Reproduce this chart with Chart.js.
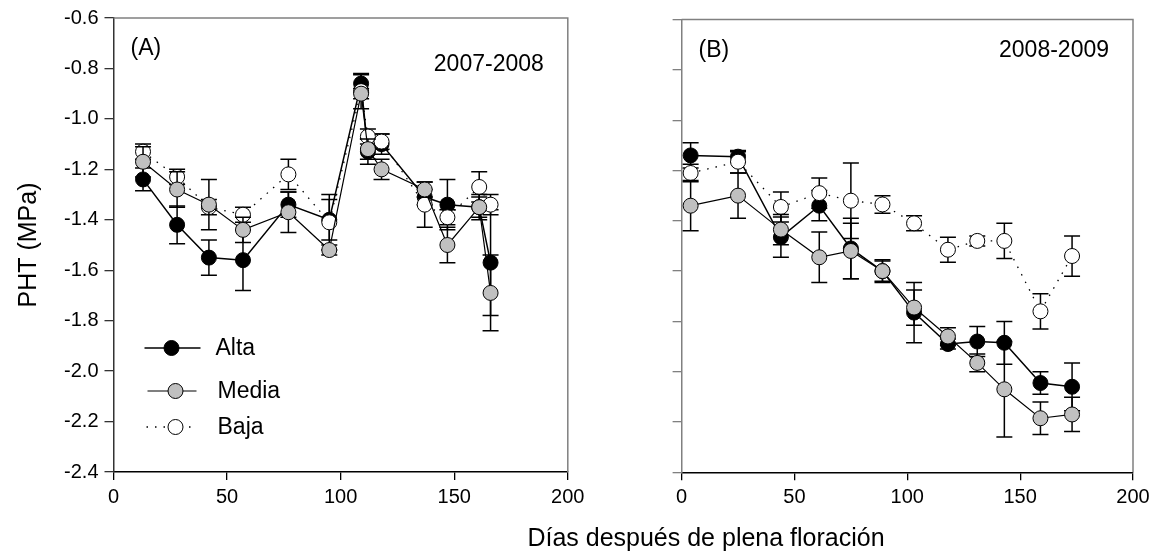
<!DOCTYPE html>
<html>
<head>
<meta charset="utf-8">
<script src="https://cdn.jsdelivr.net/npm/chart.js@4"></script>
<style>
  html, body { margin: 0; padding: 0; background: #fff; }
  #wrap { position: relative; width: 1159px; height: 556px; font-family: "Liberation Sans", Arial, sans-serif; }
  #left { position: absolute; left: 0; top: 0; }
  #right { position: absolute; left: 620px; top: 0; }
  #xTitle { position: absolute; left: 456px; width: 500px; top: 523px; text-align: center; font-size: 25px; color: #000; }
</style>
</head>
<body>
<div id="wrap">
  <canvas id="left" width="620" height="556"></canvas>
  <canvas id="right" width="539" height="556"></canvas>
  <div id="xTitle">Días después de plena floración</div>
</div>
<script>
// datos: PHT (MPa) por días después de plena floración
const seriesNames = ['Alta', 'Media', 'Baja'];
const xTicks = [0, 50, 100, 150, 200];
const yTicks = [-0.6, -0.8, -1.0, -1.2, -1.4, -1.6, -1.8, -2.0, -2.2, -2.4];

// (A) 2007-2008
const diasA = [13, 28, 42, 57, 77, 95, 109, 112, 118, 137, 147, 161, 166];
const altaA = [-1.24, -1.42, -1.55, -1.56, -1.34, -1.40, -0.86, -1.13, -1.10, -1.31, -1.34, -1.35, -1.57];
const altaAerr = [0.045, 0.075, 0.07, 0.12, 0.05, 0.08, 0.035, 0.05, 0.04, 0.03, 0.10, 0.04, 0.21];
const mediaA = [-1.17, -1.28, -1.34, -1.44, -1.37, -1.52, -0.90, -1.12, -1.20, -1.28, -1.50, -1.35, -1.69];
const mediaAerr = [0.06, 0.07, 0.10, 0.05, 0.08, 0.02, 0.02, 0.04, 0.04, 0.03, 0.07, 0.05, 0.15];
const bajaA = [-1.13, -1.23, -1.35, -1.38, -1.22, -1.41, -0.89, -1.07, -1.09, -1.34, -1.39, -1.27, -1.34];
const bajaAerr = [0.03, 0.03, 0.03, 0.03, 0.06, 0.11, 0.07, 0.03, 0.03, 0.09, 0.03, 0.06, 0.04];

// (B) 2008-2009
const diasB = [4, 25, 44, 61, 75, 89, 103, 118, 131, 143, 159, 173];
const altaB = [-1.14, -1.145, -1.465, -1.34, -1.51, -1.60, -1.765, -1.89, -1.88, -1.885, -2.045, -2.06];
const altaBerr = [0.05, 0.02, 0.08, 0.06, 0.12, 0.04, 0.12, 0.02, 0.06, 0.085, 0.045, 0.095];
const mediaB = [-1.34, -1.30, -1.435, -1.545, -1.52, -1.60, -1.745, -1.86, -1.965, -2.07, -2.185, -2.17];
const mediaBerr = [0.10, 0.09, 0.06, 0.10, 0.11, 0.045, 0.07, 0.035, 0.035, 0.19, 0.065, 0.068];
const bajaB = [-1.21, -1.165, -1.345, -1.29, -1.32, -1.335, -1.41, -1.515, -1.48, -1.48, -1.76, -1.54];
const bajaBerr = [0.035, 0.045, 0.06, 0.06, 0.15, 0.035, 0.03, 0.05, 0.02, 0.07, 0.07, 0.08];

const FONT = '"Liberation Sans", Arial, sans-serif';
const GREY = '#c0c0c0';

function pts(xs, ys){ return xs.map((x, i) => ({ x: x, y: ys[i] })); }

function makeDatasets(dias, alta, altaErr, media, mediaErr, baja, bajaErr){
  // orden: Alta abajo, Baja en medio, Media arriba
  return [
    { label: seriesNames[0], data: pts(dias, alta), errors: altaErr, order: 3,
      borderColor: '#000', borderWidth: 1.5, backgroundColor: '#000',
      pointBackgroundColor: '#000', pointBorderColor: '#000', pointBorderWidth: 1, pointRadius: 7.5 },
    { label: seriesNames[2], data: pts(dias, baja), errors: bajaErr, order: 2,
      borderColor: '#000', borderWidth: 1.3, borderDash: [1.5, 7],
      pointBackgroundColor: '#fff', pointBorderColor: '#000', pointBorderWidth: 1, pointRadius: 7.5 },
    { label: seriesNames[1], data: pts(dias, media), errors: mediaErr, order: 1,
      borderColor: '#000', borderWidth: 1.2,
      pointBackgroundColor: GREY, pointBorderColor: '#000', pointBorderWidth: 1, pointRadius: 7.5 }
  ];
}

// barras de error, dibujadas justo antes de cada serie
const errorBars = {
  id: 'errorBars',
  beforeDatasetDraw(chart, args){
    const ds = chart.data.datasets[args.index];
    if(!ds.errors) return;
    const sx = chart.scales.x, sy = chart.scales.y, ctx = chart.ctx;
    ctx.save();
    ctx.strokeStyle = '#000';
    ctx.lineWidth = 1.5;
    ds.data.forEach((p, i) => {
      const e = ds.errors[i];
      const px = sx.getPixelForValue(p.x);
      const t = sy.getPixelForValue(p.y + e);
      const b = sy.getPixelForValue(p.y - e);
      ctx.beginPath();
      ctx.moveTo(px, t); ctx.lineTo(px, b);
      ctx.moveTo(px - 8, t); ctx.lineTo(px + 8, t);
      ctx.moveTo(px - 8, b); ctx.lineTo(px + 8, b);
      ctx.stroke();
    });
    ctx.restore();
  }
};

// marco superior y derecho + textos del panel
const frame = {
  id: 'frame',
  afterDraw(chart, args, opts){
    const a = chart.chartArea, ctx = chart.ctx;
    ctx.save();
    ctx.strokeStyle = '#808080';
    ctx.lineWidth = 1.5;
    ctx.beginPath();
    ctx.moveTo(a.left, a.top); ctx.lineTo(a.right, a.top); ctx.lineTo(a.right, a.bottom);
    ctx.stroke();
    ctx.fillStyle = '#000';
    ctx.font = '23px ' + FONT;
    ctx.textBaseline = 'middle';
    ctx.textAlign = 'left';
    ctx.fillText(opts.tag, a.left + 17, a.top + 31);
    ctx.textAlign = 'right';
    ctx.fillText(opts.season, a.right - 24, a.top + opts.seasonDy);
    ctx.restore();
  }
};

// leyenda dentro del panel A
const legendBox = {
  id: 'legendBox',
  afterDraw(chart, args, opts){
    if(!opts.show) return;
    const a = chart.chartArea, ctx = chart.ctx;
    const rows = [
      { name: seriesNames[0], fill: '#000', dash: [], lw: 1.5, y: 330, x0: 31, x1: 87, mx: 58, tx: 102 },
      { name: seriesNames[1], fill: GREY, dash: [], lw: 1.2, y: 373, x0: 34, x1: 83, mx: 62, tx: 104 },
      { name: seriesNames[2], fill: '#fff', dash: [1.5, 7], lw: 1.3, y: 409, x0: 33, x1: 83, mx: 62, tx: 104 }
    ];
    ctx.save();
    rows.forEach(r => {
      const y = a.top + r.y;
      ctx.strokeStyle = '#000';
      ctx.lineWidth = r.lw;
      ctx.setLineDash(r.dash);
      ctx.beginPath();
      ctx.moveTo(a.left + r.x0, y); ctx.lineTo(a.left + r.x1, y);
      ctx.stroke();
      ctx.setLineDash([]);
      ctx.beginPath();
      ctx.arc(a.left + r.mx, y, 7.5, 0, Math.PI * 2);
      ctx.fillStyle = r.fill;
      ctx.fill();
      ctx.lineWidth = 1;
      ctx.stroke();
      ctx.fillStyle = '#000';
      ctx.font = '23px ' + FONT;
      ctx.textAlign = 'left';
      ctx.textBaseline = 'middle';
      ctx.fillText(r.name, a.left + r.tx, y + 1);
    });
    ctx.restore();
  }
};

function buildOptions(o){
  return {
    responsive: false,
    animation: false,
    layout: { padding: { left: 0, top: o.top, right: o.right, bottom: 0 } },
    plugins: {
      legend: { display: false },
      tooltip: { enabled: false },
      frame: { tag: o.tag, season: o.season, seasonDy: o.seasonDy },
      legendBox: { show: o.legend }
    },
    scales: {
      x: {
        type: 'linear', min: 0, max: 200,
        afterBuildTicks: axis => { axis.ticks = xTicks.map(v => ({ value: v })); },
        ticks: { color: '#000', font: { family: FONT, size: 20 }, padding: 5, maxRotation: 0 },
        grid: { drawOnChartArea: false, drawTicks: true, tickLength: 8, color: '#000', lineWidth: 1.3 },
        border: { color: '#000', width: 1.5 },
        afterFit: axis => { axis.height = o.xh; }
      },
      y: {
        type: 'linear', min: -2.4, max: -0.6,
        afterBuildTicks: axis => { axis.ticks = yTicks.map(v => ({ value: v })); },
        ticks: {
          color: '#000', font: { family: FONT, size: 20 }, padding: 6,
          callback: v => o.yLabels ? v.toFixed(1) : ''
        },
        grid: { drawOnChartArea: false, drawTicks: true, tickLength: 9, color: o.yColor, lineWidth: 1.3 },
        border: { color: o.yColor, width: 1.5 },
        title: {
          display: o.yLabels, text: 'PHT (MPa)', color: '#000',
          font: { family: FONT, size: 25 }, padding: { top: 14, bottom: 0 }
        },
        afterFit: axis => { axis.width = o.yw; }
      }
    }
  };
}

new Chart(document.getElementById('left'), {
  type: 'line',
  data: { datasets: makeDatasets(diasA, altaA, altaAerr, mediaA, mediaAerr, bajaA, bajaAerr) },
  options: buildOptions({ top: 16.7, right: 52.2, xh: 84, yw: 113.5, yLabels: true, yColor: '#333',
    tag: '(A)', season: '2007-2008', seasonDy: 47, legend: true }),
  plugins: [errorBars, frame, legendBox]
});

new Chart(document.getElementById('right'), {
  type: 'line',
  data: { datasets: makeDatasets(diasB, altaB, altaBerr, mediaB, mediaBerr, bajaB, bajaBerr) },
  options: buildOptions({ top: 19.6, right: 26, xh: 83.7, yw: 61.6, yLabels: false, yColor: '#808080',
    tag: '(B)', season: '2008-2009', seasonDy: 31, legend: false }),
  plugins: [errorBars, frame, legendBox]
});
</script>
</body>
</html>
